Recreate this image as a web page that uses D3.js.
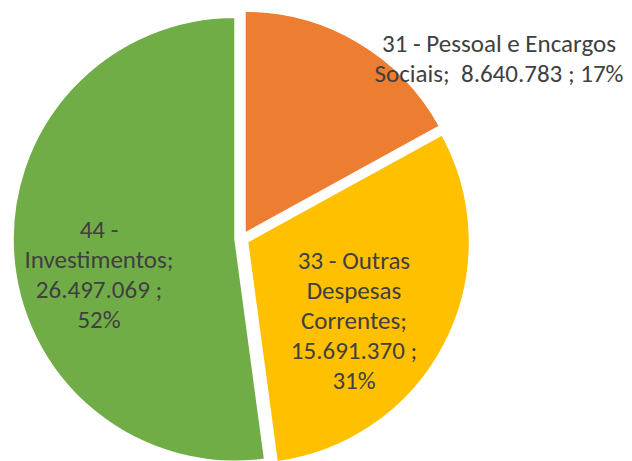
<!DOCTYPE html>
<html><head><meta charset="utf-8">
<script src="https://cdn.jsdelivr.net/npm/d3@7"></script>
<style>
html,body{margin:0;padding:0;background:#fff;}
svg{display:block;}
text{font-family:Calibri,Carlito,Lato,"Open Sans",sans-serif;fill:#404040;white-space:pre;}
</style></head>
<body>
<svg id="chart" width="632" height="461"></svg>
<script>
const categories = ["31 - Pessoal e Encargos Sociais", "33 - Outras Despesas Correntes", "44 - Investimentos"];
const values = [8640783, 15691370, 26497069];
const valueLabels = ["8.640.783", "15.691.370", "26.497.069"];
const percentLabels = ["17%", "31%", "52%"];
const colors = ["#ED7D31", "#FFC000", "#70AD47"];

// label line breaks as they appear in the chart
const labelLines = [
  ["31 - Pessoal e Encargos", "Sociais;  " + valueLabels[0] + " ; " + percentLabels[0]],
  ["33 - Outras", "Despesas", "Correntes;", valueLabels[1] + " ;", percentLabels[1]],
  ["44 -", "Investimentos;", valueLabels[2] + " ;", percentLabels[2]]
];

// layout
const W = 632, H = 461;
const cx = 241.6, cy = 238.8, R = 222, explode = 6.6;
const fontSize = 25, lineH = 30;
const labelAnchors = [
  {x: 499, y: 52},
  {x: 354, y: 269},
  {x: 99, y: 238}
];

const svg = d3.select("#chart");
const data = categories.map((c, i) => ({name: c, value: values[i], i}));
const pie = d3.pie().value(d => d.value).sort(null);
const arcs = pie(data);
const arc = d3.arc().innerRadius(0).outerRadius(R);

const g = svg.append("g").attr("transform", `translate(${cx},${cy})`);
g.selectAll("path").data(arcs).join("path")
  .attr("d", arc)
  .attr("fill", d => colors[d.data.i])
  .attr("stroke", "#fff")
  .attr("stroke-width", 1.5)
  .attr("transform", d => {
    const a = (d.startAngle + d.endAngle) / 2;
    return `translate(${explode * Math.sin(a)},${-explode * Math.cos(a)})`;
  });

const labels = svg.append("g");
arcs.forEach(d => {
  const i = d.data.i;
  const t = labels.append("text")
    .attr("text-anchor", "middle")
    .attr("font-size", fontSize);
  labelLines[i].forEach((ln, k) => {
    t.append("tspan")
      .attr("x", labelAnchors[i].x)
      .attr("y", labelAnchors[i].y + k * lineH)
      .text(ln);
  });
});
</script>
</body></html>
